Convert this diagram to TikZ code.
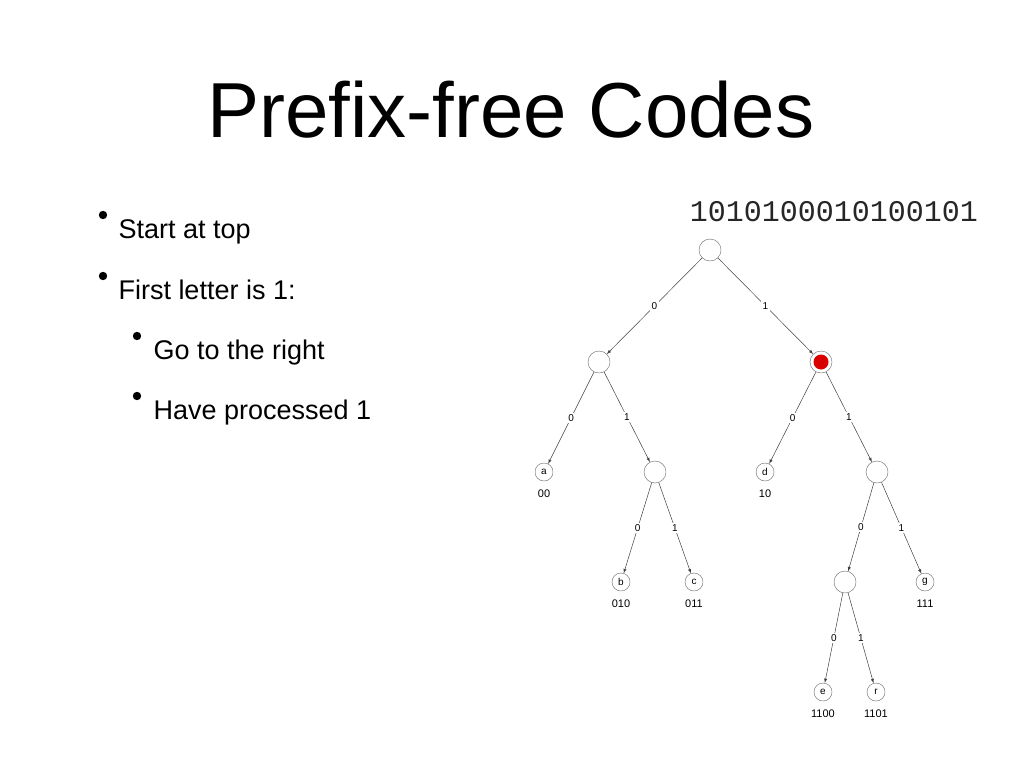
\documentclass[tikz,border=0pt]{standalone}
\usepackage{fontspec}
\usetikzlibrary{positioning}
\setmainfont{Liberation Sans}
\newfontfamily\monof{Liberation Mono}
\begin{document}
\begin{tikzpicture}[x=1pt,y=-1pt,
  inner/.style={circle,draw=black!60,fill=white,minimum size=22pt,inner sep=0pt},
  leaf/.style={circle,draw=black!60,fill=white,minimum size=18pt,inner sep=0pt,font=\fontsize{10}{10}\selectfont},
  edge/.style={draw=black!75,line width=0.5pt,-latex},
  lab/.style={fill=white,inner sep=1.5pt,font=\fontsize{10}{10}\selectfont,midway},
  code/.style={font=\fontsize{11}{11}\selectfont},
  bul/.style={anchor=base west,font=\fontsize{27}{27}\selectfont}]
\useasboundingbox (0,0) rectangle (1024,768);
\node[font=\fontsize{78}{78}\selectfont] (title) at (511,110) {Prefix-free Codes};
\node[bul] (b1) at (115,238) {Start at top};
\node[bul] (b2) at (115,299) {First letter is 1:};
\node[bul] (b3) at (150,359) {Go to the right};
\node[bul] (b4) at (150,419) {Have processed 1};
\foreach \x/\y in {103/215,103/276,137/336,137/396} \fill (\x,\y) circle (4.2pt);
\node[font=\monof\fontsize{30}{30}\selectfont,text=black!85] (str) at (834,212) {1010100010100101};
\node[inner] (r) at (710,250) {};
\node[inner] (n0) at (599,362) {};
\node[inner] (n1) at (821,362) {};
\fill[red!85!black] (n1) circle (7.5pt);
\node[leaf] (a) at (544,472) {a};
\node[inner] (n01) at (655,472) {};
\node[leaf] (d) at (765,472) {d};
\node[inner] (n11) at (877,472) {};
\node[leaf] (b) at (621,582) {b};
\node[leaf] (c) at (694,582) {c};
\node[inner] (n110) at (845,582) {};
\node[leaf] (g) at (925,582) {g};
\node[leaf] (e) at (823,692) {e};
\node[leaf] (rr) at (876,692) {r};
\foreach \p/\q/\l in {r/n0/0,r/n1/1,n0/a/0,n0/n01/1,n1/d/0,n1/n11/1,n01/b/0,n01/c/1,n11/n110/0,n11/g/1,n110/e/0,n110/rr/1}
  \draw[edge] (\p) -- node[lab]{\l} (\q);
\node[code,below=5pt of a] (ca) {00};
\node[code,below=5pt of d] (cd) {10};
\node[code,below=5pt of b] (cb) {010};
\node[code,below=5pt of c] (cc) {011};
\node[code,below=5pt of g] (cg) {111};
\node[code,below=5pt of e] (ce) {1100};
\node[code,below=5pt of rr] (cr) {1101};
\end{tikzpicture}
\end{document}
